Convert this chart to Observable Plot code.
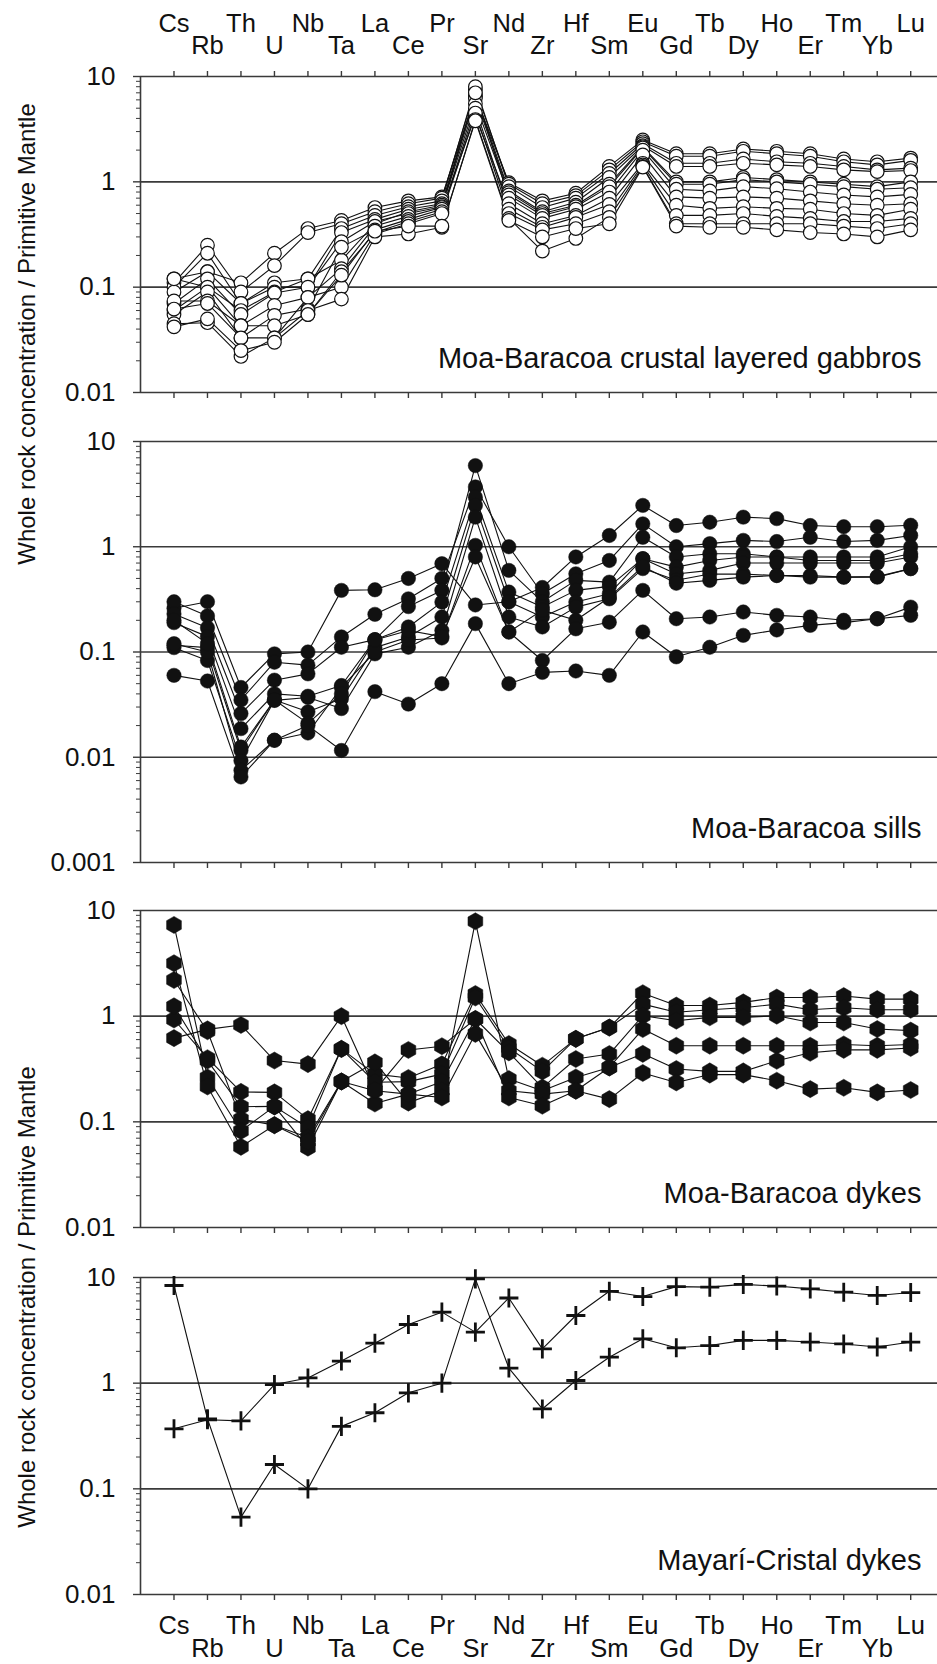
<!DOCTYPE html>
<html><head><meta charset="utf-8">
<script src="https://cdn.jsdelivr.net/npm/d3@7"></script>
<script src="https://cdn.jsdelivr.net/npm/@observablehq/plot@0.6"></script>
<style>
body{margin:0;background:#fff;}
#wrap{position:relative;width:937px;height:1664px;overflow:hidden;font-family:Arial,"Liberation Sans",sans-serif;background:#fff;}
.panel{position:absolute;left:0;}
.ytitle{position:absolute;width:700px;height:24px;line-height:24px;font-size:24px;text-align:center;color:#111;transform:rotate(-90deg);white-space:nowrap;}
</style></head><body><div id="wrap"></div>
<script>
const elements = ["Cs","Rb","Th","U","Nb","Ta","La","Ce","Pr","Sr","Nd","Zr","Hf","Sm","Eu","Gd","Tb","Dy","Ho","Er","Tm","Yb","Lu"];

// Moa-Baracoa crustal layered gabbros (open circles)
const gabbros = [
  [0.12,0.14,0.11,0.21,0.36,0.43,0.57,0.66,0.72,6.5,0.98,0.66,0.78,1.40,2.50,1.85,1.85,2.05,1.95,1.85,1.65,1.55,1.68],
  [0.11,0.25,0.09,0.16,0.33,0.40,0.52,0.62,0.70,7.5,0.95,0.62,0.74,1.30,2.40,1.75,1.75,1.95,1.85,1.75,1.55,1.45,1.60],
  [0.10,0.21,0.07,0.11,0.12,0.36,0.48,0.58,0.66,8.0,0.90,0.57,0.70,1.20,2.30,1.50,1.50,1.65,1.55,1.50,1.40,1.30,1.35],
  [0.09,0.14,0.07,0.10,0.10,0.33,0.44,0.55,0.62,6.8,0.82,0.52,0.64,1.10,2.20,1.40,1.40,1.50,1.45,1.40,1.30,1.25,1.28],
  [0.12,0.10,0.06,0.09,0.12,0.18,0.40,0.52,0.60,6.2,0.79,0.50,0.60,0.95,2.15,1.00,1.00,1.10,1.05,1.00,0.95,0.90,1.00],
  [0.07,0.12,0.055,0.088,0.10,0.27,0.42,0.50,0.58,5.5,0.75,0.48,0.58,0.90,2.10,0.95,0.95,1.05,1.00,0.95,0.90,0.85,0.88],
  [0.06,0.10,0.043,0.067,0.08,0.15,0.38,0.47,0.57,7.0,0.70,0.45,0.55,0.80,2.00,0.85,0.82,0.90,0.86,0.80,0.75,0.72,0.76],
  [0.055,0.09,0.033,0.054,0.062,0.24,0.35,0.44,0.55,4.2,0.62,0.40,0.48,0.70,1.80,0.72,0.70,0.72,0.70,0.66,0.62,0.60,0.62],
  [0.074,0.074,0.043,0.043,0.055,0.14,0.33,0.42,0.52,5.0,0.55,0.37,0.46,0.61,1.50,0.60,0.56,0.58,0.56,0.55,0.50,0.48,0.55],
  [0.062,0.07,0.033,0.033,0.08,0.10,0.32,0.40,0.50,4.5,0.50,0.35,0.40,0.52,1.45,0.48,0.48,0.50,0.47,0.45,0.42,0.42,0.45],
  [0.045,0.046,0.022,0.033,0.06,0.077,0.30,0.32,0.37,3.9,0.45,0.22,0.29,0.46,1.40,0.40,0.40,0.40,0.40,0.40,0.38,0.36,0.40],
  [0.042,0.05,0.025,0.03,0.055,0.13,0.34,0.38,0.38,3.8,0.43,0.30,0.36,0.40,1.38,0.38,0.37,0.37,0.35,0.33,0.32,0.30,0.35]
];

// Moa-Baracoa sills (filled circles)
const sills = [
  [0.26,0.30,0.046,0.096,0.10,0.385,0.39,0.50,0.69,0.28,0.30,0.41,0.80,1.28,2.47,1.59,1.71,1.91,1.85,1.59,1.55,1.55,1.60],
  [0.30,0.22,0.035,0.080,0.075,0.139,0.228,0.32,0.50,3.7,1.00,0.358,0.553,0.741,1.65,1.00,1.07,1.15,1.12,1.23,1.12,1.15,1.28],
  [0.23,0.17,0.026,0.054,0.062,0.111,0.131,0.27,0.385,5.9,0.596,0.30,0.479,0.461,1.23,0.80,0.857,0.857,0.80,0.80,0.80,0.80,1.00],
  [0.19,0.14,0.0187,0.040,0.038,0.048,0.131,0.173,0.298,2.96,0.371,0.267,0.385,0.42,0.77,0.64,0.741,0.80,0.80,0.741,0.741,0.74,0.857],
  [0.116,0.11,0.0116,0.035,0.027,0.036,0.11,0.139,0.215,2.47,0.30,0.215,0.298,0.358,0.77,0.55,0.596,0.70,0.70,0.70,0.70,0.70,0.80],
  [0.11,0.083,0.0093,0.0347,0.037,0.029,0.096,0.111,0.16,1.91,0.215,0.173,0.267,0.32,0.62,0.48,0.55,0.55,0.533,0.533,0.514,0.514,0.62],
  [0.12,0.10,0.0075,0.0145,0.017,0.046,0.10,0.13,0.136,1.03,0.155,0.25,0.20,0.33,0.65,0.45,0.479,0.514,0.533,0.514,0.514,0.52,0.62],
  [0.20,0.12,0.0125,0.035,0.021,0.040,0.13,0.16,0.14,0.80,0.155,0.083,0.166,0.192,0.385,0.207,0.215,0.24,0.223,0.215,0.20,0.207,0.267],
  [0.06,0.053,0.0065,0.0145,0.02,0.0116,0.042,0.032,0.05,0.186,0.05,0.064,0.066,0.06,0.155,0.09,0.111,0.144,0.162,0.179,0.19,0.207,0.223]
];

// Moa-Baracoa dykes (hexagons)
const dykes = [
  [0.93,0.40,0.192,0.19,0.106,0.49,0.283,0.26,0.35,1.62,0.545,0.34,0.61,0.78,1.65,1.26,1.26,1.35,1.50,1.50,1.55,1.45,1.45],
  [1.24,0.38,0.139,0.14,0.088,0.49,0.237,0.24,0.283,1.50,0.50,0.30,0.61,0.78,1.30,1.09,1.15,1.20,1.30,1.15,1.20,1.15,1.15],
  [2.2,0.72,0.106,0.093,0.071,0.241,0.197,0.183,0.24,0.94,0.454,0.211,0.393,0.438,1.01,0.906,0.975,0.975,1.01,0.87,0.87,0.755,0.73],
  [7.3,0.263,0.082,0.14,0.057,0.241,0.365,0.152,0.197,7.9,0.254,0.197,0.263,0.327,0.755,0.525,0.525,0.525,0.525,0.525,0.54,0.525,0.54],
  [3.17,0.216,0.058,0.093,0.065,0.241,0.149,0.183,0.17,0.68,0.197,0.183,0.197,0.327,0.44,0.316,0.30,0.30,0.378,0.45,0.48,0.48,0.50],
  [0.62,0.75,0.826,0.38,0.352,1.0,0.20,0.479,0.52,0.94,0.17,0.142,0.197,0.164,0.29,0.236,0.28,0.28,0.245,0.204,0.21,0.19,0.20]
];

// Mayarí-Cristal dykes (plus)
const mayari = [
  [8.4,0.46,0.054,0.17,0.10,0.39,0.525,0.81,1.0,9.7,1.39,0.57,1.06,1.76,2.63,2.16,2.27,2.54,2.54,2.45,2.35,2.2,2.45],
  [0.37,0.45,0.44,0.97,1.12,1.62,2.39,3.59,4.7,3.04,6.4,2.11,4.37,7.4,6.6,8.2,8.1,8.6,8.3,7.8,7.26,6.76,7.2]
];

const panelLabels = ["Moa-Baracoa crustal layered gabbros","Moa-Baracoa sills","Moa-Baracoa dykes","Mayarí-Cristal dykes"];
const yTitle = "Whole rock concentration / Primitive Mantle";
const yMajor = [10, 1, 0.1, 0.01, 0.001];

const idx = elements.map((d, i) => i);
const even = idx.filter(i => i % 2 === 0);
const odd = idx.filter(i => i % 2 === 1);

function toLong(rows) {
  const out = [];
  rows.forEach((r, s) => r.forEach((v, i) => out.push({s, i, v})));
  return out;
}

function minorTicks(lo, hi) {
  const t = [];
  for (let d = lo; d < hi * 0.999; d *= 10) for (let k = 2; k <= 9; k++) t.push(+(d * k).toPrecision(3));
  return t;
}

const FONT = 'Arial, "Liberation Sans", sans-serif';
const INK = "#111";
const GRID = "#3a3a3a";

const panels = [
  {rows: gabbros, label: panelLabels[0], top: 0, mt: 76, fh: 316, mb: 10, lo: 0.01, dot: {symbol: "circle", fill: "white", stroke: INK, strokeWidth: 1.2, r: 6.8}, topLabels: true, grid: [1, 0.1]},
  {rows: sills, label: panelLabels[1], top: 420, mt: 21, fh: 421, mb: 10, lo: 0.001, dot: {symbol: "circle", fill: INK, stroke: INK, strokeWidth: 0.5, r: 7.2}, grid: [1, 0.1, 0.01]},
  {rows: dykes, label: panelLabels[2], top: 890, mt: 20, fh: 317, mb: 10, lo: 0.01, dot: {symbol: "hexagon", fill: INK, stroke: INK, strokeWidth: 0.5, r: 7.4}, grid: [1, 0.1]},
  {rows: mayari, label: panelLabels[3], top: 1257, mt: 20, fh: 317, mb: 70, lo: 0.01, dot: {symbol: "plus", stroke: INK, strokeWidth: 2.8, r: 6.2}, bottomLabels: true, grid: [1, 0.1]}
];

const wrap = document.getElementById("wrap");

for (const p of panels) {
  const data = toLong(p.rows);
  const height = p.mt + p.fh + p.mb;
  const marks = [
    Plot.ruleY(p.grid, {stroke: GRID, strokeWidth: 1.6}),
    Plot.ruleY([10], {stroke: GRID, strokeWidth: 1.6}),
    Plot.ruleY([p.lo], {stroke: GRID, strokeWidth: 1.6}),
    Plot.ruleX([-1], {stroke: GRID, strokeWidth: 1.6}),
    Plot.axisY({anchor: "left", ticks: yMajor.filter(d => d >= p.lo), tickSize: 7, tickPadding: 18, tickFormat: d => String(d), label: null, fontSize: 26, stroke: GRID, strokeWidth: 1.4, fill: INK}),
    Plot.axisY({anchor: "left", ticks: minorTicks(p.lo, 10), tickSize: 4, tickFormat: () => "", label: null, stroke: GRID, strokeWidth: 1}),
    Plot.axisX({anchor: "bottom", ticks: idx, tickSize: 6, tickFormat: () => "", label: null, stroke: GRID, strokeWidth: 1.4}),
    Plot.line(data, {x: "i", y: "v", z: "s", stroke: INK, strokeWidth: 1.1}),
    Plot.dot(data, {x: "i", y: "v", ...p.dot}),
    Plot.text([p.label], {frameAnchor: "bottom-right", dx: -16, dy: -25, textAnchor: "end", lineAnchor: "bottom", fontSize: 29, fill: INK})
  ];
  if (p.topLabels) {
    marks.push(Plot.axisX({anchor: "top", ticks: idx, tickSize: 6, tickFormat: () => "", label: null, stroke: GRID, strokeWidth: 1.4}));
    marks.push(Plot.text(even, {x: d => d, text: d => elements[d], frameAnchor: "top", dy: -45, lineAnchor: "bottom", fontSize: 25.5, fill: INK}));
    marks.push(Plot.text(odd, {x: d => d, text: d => elements[d], frameAnchor: "top", dy: -23, lineAnchor: "bottom", fontSize: 25.5, fill: INK}));
  }
  if (p.bottomLabels) {
    marks.push(Plot.text(even, {x: d => d, text: d => elements[d], frameAnchor: "bottom", dy: 39, lineAnchor: "bottom", fontSize: 25.5, fill: INK}));
    marks.push(Plot.text(odd, {x: d => d, text: d => elements[d], frameAnchor: "bottom", dy: 62, lineAnchor: "bottom", fontSize: 25.5, fill: INK}));
  }
  const svg = Plot.plot({
    width: 937,
    height,
    marginLeft: 140,
    marginRight: 0,
    marginTop: p.mt,
    marginBottom: p.mb,
    style: {fontFamily: FONT, background: "transparent", overflow: "visible"},
    x: {type: "linear", domain: [-1, 22.8], axis: null},
    y: {type: "log", domain: [p.lo, 10], axis: null},
    marks
  });
  svg.classList.add("panel");
  svg.style.top = p.top + "px";
  wrap.appendChild(svg);
}

for (const cy of [334, 1297]) {
  const t = document.createElement("div");
  t.className = "ytitle";
  t.textContent = yTitle;
  t.style.left = (27 - 350) + "px";
  t.style.top = (cy - 12) + "px";
  wrap.appendChild(t);
}
</script>
</body></html>
